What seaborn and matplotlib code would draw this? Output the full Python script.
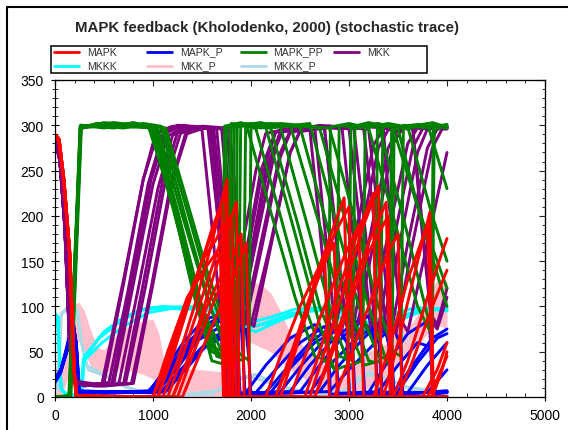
import pandas as pd
import seaborn as sns
import matplotlib.pyplot as plt
from matplotlib.lines import Line2D
from matplotlib.patches import Rectangle
from matplotlib.ticker import MultipleLocator

# Kholodenko MAPK feedback, 10 stochastic runs as (time, value) breakpoints

mapk_runs = [
    [(0, 288), (40, 285), (90, 240), (150, 160), (195, 30), (220, 2), (1000, 0), (1100, 25), (1300, 90), (1500, 150), (1650, 175), (1720, 192), (1750, 100), (1770, 0), (2250, 0), (2400, 40), (2600, 110), (2800, 175), (2950, 220), (2975, 120), (3000, 0), (3500, 0), (3650, 40), (3850, 100), (4000, 140)],
    [(0, 290), (35, 286), (85, 245), (145, 165), (190, 35), (215, 0), (1100, 0), (1250, 40), (1450, 110), (1600, 170), (1700, 215), (1755, 240), (1775, 120), (1790, 0), (2600, 0), (2750, 50), (2950, 120), (3150, 190), (3300, 233), (3315, 120), (3330, 0), (4000, 0)],
    [(0, 287), (45, 283), (95, 235), (155, 150), (200, 25), (225, 0), (1000, 0), (1150, 50), (1350, 110), (1550, 145), (1650, 160), (1690, 150), (1705, 60), (1720, 0), (2250, 0), (2400, 45), (2600, 110), (2800, 160), (2850, 170), (2865, 80), (2880, 0), (3350, 0), (3500, 60), (3700, 150), (3825, 204), (3845, 100), (3860, 0), (4000, 0)],
    [(0, 289), (40, 284), (90, 242), (150, 162), (195, 30), (222, 0), (1150, 0), (1300, 45), (1500, 110), (1700, 175), (1800, 200), (1825, 110), (1850, 0), (2650, 0), (2800, 40), (3000, 100), (3200, 160), (3400, 200), (3425, 100), (3450, 0), (3800, 0), (3900, 20), (4000, 45)],
    [(0, 288), (38, 284), (88, 240), (148, 160), (193, 28), (218, 0), (1200, 0), (1350, 40), (1550, 110), (1750, 180), (1850, 215), (1865, 120), (1880, 0), (2400, 0), (2550, 45), (2750, 100), (2950, 155), (3100, 190), (3125, 90), (3150, 0), (3750, 0), (3900, 30), (4000, 60)],
    [(0, 290), (42, 285), (92, 238), (152, 158), (197, 30), (224, 0), (1250, 0), (1400, 45), (1600, 100), (1800, 150), (1900, 180), (1915, 90), (1930, 0), (2850, 0), (3000, 40), (3200, 100), (3400, 160), (3500, 180), (3520, 90), (3540, 0), (4000, 0)],
    [(0, 288), (40, 285), (90, 240), (150, 160), (195, 30), (220, 0), (1300, 0), (1450, 40), (1650, 90), (1850, 140), (1950, 170), (1970, 90), (1990, 0), (2300, 0), (2450, 50), (2650, 120), (2850, 180), (3000, 210), (3025, 100), (3050, 0), (3450, 0), (3600, 40), (3800, 110), (3950, 160), (4000, 175)],
    [(0, 289), (36, 285), (86, 243), (146, 163), (191, 32), (216, 0), (1050, 0), (1200, 50), (1400, 120), (1600, 180), (1700, 210), (1720, 110), (1740, 0), (2550, 0), (2700, 50), (2900, 120), (3100, 185), (3250, 225), (3265, 110), (3280, 0), (3850, 0), (3950, 30), (4000, 50)],
    [(0, 287), (44, 283), (94, 236), (154, 152), (199, 27), (224, 0), (1200, 0), (1350, 40), (1550, 100), (1700, 135), (1780, 150), (1800, 80), (1820, 0), (2150, 0), (2300, 45), (2500, 100), (2700, 145), (2750, 160), (2775, 80), (2800, 0), (3250, 0), (3400, 50), (3600, 130), (3800, 190), (3830, 100), (3850, 0), (4000, 0)],
    [(0, 288), (40, 284), (90, 241), (150, 161), (195, 29), (220, 0), (1050, 0), (1200, 45), (1400, 115), (1600, 185), (1740, 225), (1760, 110), (1780, 0), (2650, 0), (2800, 45), (3000, 110), (3200, 170), (3380, 215), (3400, 100), (3420, 0), (4000, 0)],
]

mapk_p_runs = [
    [(0, 18), (60, 28), (120, 50), (180, 80), (215, 60), (245, 6), (500, 4), (950, 6), (1100, 25), (1300, 50), (1500, 70), (1700, 85), (1760, 50), (1780, 3), (2150, 5), (2350, 30), (2600, 60), (2850, 80), (2980, 60), (3005, 3), (3450, 5), (3650, 35), (3850, 65), (4000, 75)],
    [(0, 20), (60, 30), (120, 55), (185, 85), (220, 55), (250, 5), (600, 5), (980, 7), (1150, 30), (1350, 60), (1550, 80), (1700, 90), (1780, 55), (1800, 4), (2400, 6), (2600, 35), (2850, 65), (3100, 85), (3300, 70), (3340, 3), (4000, 6)],
    [(0, 16), (55, 26), (115, 48), (175, 78), (210, 62), (240, 7), (700, 5), (1000, 6), (1150, 28), (1350, 55), (1550, 72), (1700, 65), (1730, 3), (2050, 5), (2250, 30), (2500, 60), (2750, 78), (2870, 55), (2890, 4), (3300, 6), (3500, 35), (3700, 60), (3840, 55), (3865, 4), (4000, 5)],
    [(0, 19), (58, 29), (118, 52), (182, 82), (218, 58), (248, 5), (600, 6), (1020, 5), (1200, 30), (1400, 58), (1600, 78), (1800, 95), (1840, 50), (1860, 3), (2600, 5), (2800, 35), (3050, 62), (3300, 82), (3430, 60), (3460, 4), (4000, 6)],
    [(0, 21), (62, 31), (122, 53), (178, 79), (212, 61), (242, 6), (800, 5), (1050, 7), (1250, 32), (1450, 62), (1650, 75), (1850, 82), (1870, 40), (1890, 3), (2300, 6), (2500, 33), (2750, 63), (3000, 88), (3130, 60), (3160, 4), (3600, 5), (3800, 35), (4000, 60)],
    [(0, 17), (57, 27), (117, 51), (183, 84), (216, 59), (246, 5), (900, 6), (1080, 5), (1280, 30), (1500, 55), (1700, 72), (1900, 80), (1920, 45), (1940, 3), (2800, 6), (3000, 30), (3250, 58), (3450, 78), (3530, 55), (3550, 3), (4000, 7)],
    [(0, 20), (60, 30), (120, 50), (180, 80), (215, 60), (245, 5), (800, 6), (1100, 6), (1300, 30), (1500, 52), (1700, 68), (1950, 75), (1980, 40), (2000, 3), (2200, 5), (2400, 32), (2650, 60), (2900, 75), (3040, 50), (3060, 3), (3500, 6), (3700, 38), (3900, 65), (4000, 70)],
    [(0, 18), (55, 28), (118, 52), (182, 83), (215, 58), (244, 6), (700, 5), (960, 6), (1120, 30), (1320, 62), (1520, 85), (1700, 92), (1730, 50), (1750, 3), (2500, 6), (2700, 35), (2950, 68), (3200, 90), (3270, 55), (3290, 3), (3800, 5), (4000, 30)],
    [(0, 19), (60, 29), (120, 52), (180, 78), (214, 60), (244, 5), (900, 5), (1130, 6), (1330, 30), (1530, 55), (1700, 65), (1800, 60), (1825, 3), (1950, 5), (2150, 35), (2400, 65), (2650, 80), (2790, 60), (2810, 3), (3200, 5), (3400, 40), (3600, 70), (3820, 85), (3855, 3), (4000, 5)],
    [(0, 20), (61, 30), (121, 54), (181, 81), (216, 57), (246, 5), (700, 6), (1000, 5), (1180, 32), (1380, 60), (1580, 82), (1740, 88), (1770, 45), (1790, 3), (2700, 6), (2900, 35), (3150, 65), (3350, 85), (3410, 55), (3430, 3), (4000, 6)],
]

mapk_pp_runs = [
    [(0, 0), (150, 2), (205, 150), (260, 296), (420, 302), (700, 298), (950, 300), (1200, 215), (1400, 120), (1600, 40), (1760, 35), (1790, 300), (2000, 302), (2150, 298), (2450, 180), (2700, 80), (2850, 30), (2990, 35), (3020, 298), (3200, 303), (3450, 297), (3700, 210), (4000, 120)],
    [(0, 0), (160, 0), (215, 160), (265, 300), (500, 297), (800, 303), (980, 298), (1250, 200), (1450, 110), (1650, 45), (1780, 40), (1800, 302), (2100, 297), (2400, 300), (2700, 190), (2950, 90), (3150, 35), (3320, 40), (3345, 300), (3600, 296), (3850, 303), (4000, 298)],
    [(0, 0), (140, 0), (200, 140), (255, 298), (600, 300), (1000, 297), (1250, 190), (1450, 100), (1600, 50), (1710, 45), (1730, 299), (1900, 303), (2050, 296), (2300, 200), (2550, 100), (2750, 40), (2870, 30), (2900, 300), (3100, 297), (3300, 301), (3550, 200), (3800, 90), (3850, 60), (3870, 295), (4000, 300)],
    [(0, 0), (155, 0), (210, 150), (262, 297), (500, 303), (800, 298), (1020, 300), (1300, 185), (1500, 100), (1700, 50), (1840, 38), (1860, 300), (2200, 297), (2600, 302), (2850, 200), (3100, 100), (3300, 45), (3440, 40), (3460, 298), (3700, 300), (4000, 297)],
    [(0, 0), (150, 0), (205, 145), (258, 299), (700, 300), (1050, 296), (1300, 200), (1550, 110), (1750, 50), (1870, 45), (1895, 300), (2100, 303), (2300, 298), (2600, 180), (2850, 80), (3000, 35), (3140, 40), (3165, 297), (3400, 302), (3600, 298), (3850, 200), (4000, 150)],
    [(0, 0), (160, 0), (218, 155), (270, 300), (600, 297), (900, 302), (1080, 299), (1350, 190), (1600, 95), (1800, 45), (1920, 40), (1945, 298), (2300, 302), (2800, 297), (3050, 200), (3300, 100), (3450, 50), (3530, 45), (3555, 300), (3800, 297), (4000, 301)],
    [(0, 0), (145, 0), (200, 150), (258, 297), (650, 301), (1100, 298), (1350, 205), (1600, 110), (1800, 55), (1980, 40), (2000, 300), (2200, 297), (2480, 190), (2700, 100), (2900, 45), (3040, 40), (3060, 299), (3300, 302), (3500, 296), (3750, 190), (4000, 100)],
    [(0, 0), (150, 0), (205, 150), (260, 300), (700, 297), (960, 301), (1200, 210), (1420, 120), (1600, 55), (1730, 50), (1750, 297), (2100, 302), (2500, 298), (2750, 200), (3000, 100), (3200, 40), (3270, 38), (3290, 300), (3550, 297), (3800, 302), (4000, 230)],
    [(0, 0), (155, 0), (210, 150), (265, 298), (800, 302), (1130, 297), (1350, 215), (1550, 140), (1700, 90), (1810, 70), (1830, 298), (1950, 302), (2200, 205), (2450, 110), (2650, 45), (2790, 40), (2810, 298), (3000, 302), (3200, 297), (3450, 200), (3700, 100), (3840, 70), (3860, 300), (4000, 297)],
    [(0, 0), (148, 0), (205, 155), (262, 299), (600, 303), (1000, 298), (1250, 205), (1450, 115), (1650, 50), (1770, 42), (1790, 298), (2200, 302), (2700, 297), (2950, 200), (3200, 100), (3380, 40), (3410, 35), (3435, 297), (3700, 301), (4000, 298)],
]

mkk_runs = [
    [(0, 285), (50, 262), (100, 190), (150, 60), (185, 18), (300, 12), (480, 15), (700, 130), (900, 240), (1030, 292), (1200, 299), (1400, 296), (1560, 297), (1650, 210), (1760, 95), (1820, 80), (1950, 150), (2100, 240), (2250, 292), (2500, 299), (2750, 296), (2850, 200), (2970, 80), (3050, 60), (3250, 170), (3450, 280), (3550, 297), (4000, 296)],
    [(0, 286), (52, 260), (105, 185), (155, 55), (190, 16), (350, 13), (550, 16), (750, 120), (950, 235), (1100, 290), (1300, 300), (1620, 296), (1710, 200), (1800, 90), (1860, 75), (2000, 150), (2150, 240), (2300, 292), (2700, 300), (3050, 297), (3150, 200), (3260, 85), (3330, 70), (3500, 160), (3700, 270), (3800, 296), (4000, 299)],
    [(0, 284), (48, 262), (98, 192), (148, 62), (183, 19), (300, 14), (600, 15), (800, 125), (1000, 235), (1150, 288), (1300, 297), (1500, 295), (1600, 190), (1690, 90), (1750, 78), (1900, 160), (2050, 250), (2150, 291), (2400, 297), (2650, 298), (2740, 200), (2850, 85), (2920, 70), (3100, 170), (3300, 275), (3400, 295), (3650, 297), (3740, 200), (3840, 90), (3900, 80), (4000, 120)],
    [(0, 285), (50, 261), (100, 188), (150, 58), (185, 17), (400, 12), (650, 14), (850, 120), (1050, 230), (1200, 289), (1400, 299), (1700, 296), (1780, 200), (1860, 85), (1920, 78), (2100, 170), (2300, 270), (2400, 294), (2800, 299), (3200, 296), (3300, 200), (3420, 85), (3480, 70), (3650, 170), (3850, 275), (3950, 296), (4000, 298)],
    [(0, 285), (50, 260), (100, 189), (150, 60), (185, 18), (400, 13), (700, 15), (900, 125), (1100, 240), (1250, 292), (1450, 298), (1720, 296), (1790, 200), (1880, 88), (1940, 80), (2100, 160), (2300, 265), (2400, 292), (2700, 298), (2930, 296), (3020, 200), (3130, 85), (3200, 72), (3400, 180), (3600, 280), (3700, 297), (4000, 296)],
    [(0, 286), (50, 261), (100, 187), (150, 57), (185, 17), (450, 12), (720, 15), (920, 120), (1120, 235), (1280, 291), (1500, 299), (1750, 297), (1830, 200), (1930, 90), (2000, 80), (2200, 170), (2400, 270), (2500, 294), (3000, 300), (3350, 297), (3420, 200), (3530, 85), (3600, 72), (3800, 170), (4000, 270)],
    [(0, 284), (48, 262), (98, 190), (148, 60), (183, 18), (500, 13), (780, 15), (980, 120), (1180, 235), (1330, 290), (1550, 298), (1780, 296), (1860, 200), (1970, 85), (2030, 78), (2200, 165), (2400, 270), (2500, 293), (2750, 297), (2840, 200), (2960, 85), (3030, 70), (3200, 170), (3400, 275), (3500, 296), (4000, 297)],
    [(0, 285), (50, 261), (100, 189), (150, 59), (185, 18), (300, 13), (500, 15), (700, 125), (900, 240), (1050, 292), (1250, 300), (1580, 297), (1660, 200), (1740, 85), (1800, 75), (1950, 160), (2100, 250), (2250, 293), (2700, 299), (3000, 296), (3100, 200), (3220, 85), (3290, 70), (3450, 170), (3650, 275), (3750, 296), (4000, 298)],
    [(0, 286), (52, 260), (102, 186), (152, 56), (187, 17), (500, 12), (800, 15), (1000, 125), (1200, 240), (1350, 292), (1500, 297), (1650, 296), (1730, 200), (1820, 90), (1880, 80), (2050, 170), (2250, 275), (2330, 295), (2500, 298), (2600, 296), (2690, 200), (2790, 85), (2850, 72), (3050, 170), (3250, 278), (3350, 296), (3650, 298), (3730, 200), (3840, 85), (3900, 75), (4000, 110)],
    [(0, 285), (50, 262), (100, 190), (150, 60), (185, 18), (350, 13), (580, 15), (780, 125), (980, 240), (1130, 292), (1300, 299), (1600, 297), (1680, 200), (1780, 88), (1840, 78), (2000, 160), (2150, 250), (2300, 293), (2800, 299), (3150, 296), (3250, 200), (3370, 85), (3430, 72), (3600, 170), (3800, 275), (3900, 296), (4000, 298)],
]

mkkk_runs = [
    [(0, 90), (25, 88), (60, 10), (120, 2), (260, 3), (290, 42), (450, 65), (650, 82), (850, 95), (1000, 99), (1300, 97), (1600, 98), (1750, 85), (1900, 75), (2100, 80), (2400, 92), (2700, 97), (2950, 85), (3100, 72), (3350, 85), (3600, 97), (4000, 96)],
    [(0, 92), (30, 89), (65, 8), (130, 1), (270, 2), (300, 45), (500, 72), (700, 88), (900, 97), (1100, 100), (1500, 98), (1700, 90), (1850, 80), (2050, 72), (2300, 85), (2600, 96), (2900, 98), (3100, 80), (3300, 75), (3550, 90), (3800, 98), (4000, 97)],
    [(0, 89), (28, 87), (62, 9), (125, 2), (265, 2), (295, 40), (480, 60), (700, 78), (950, 93), (1200, 98), (1650, 96), (1800, 82), (2000, 78), (2250, 83), (2500, 94), (2800, 96), (3050, 78), (3250, 70), (3500, 84), (3750, 95), (4000, 98)],
    [(0, 91), (27, 88), (63, 9), (128, 2), (268, 3), (298, 43), (470, 68), (680, 85), (880, 96), (1050, 98), (1400, 100), (1680, 94), (1820, 86), (1980, 82), (2200, 88), (2450, 97), (2750, 99), (3000, 90), (3200, 82), (3450, 92), (3700, 99), (4000, 95)],
]

mkkk_p_runs = [
    [(0, 10), (25, 12), (60, 90), (120, 98), (220, 97), (270, 60), (320, 35), (500, 25), (700, 12), (900, 5), (1100, 2), (1600, 3), (1800, 18), (2000, 22), (2300, 12), (2600, 4), (2900, 3), (3100, 22), (3300, 25), (3550, 12), (4000, 4)],
    [(0, 8), (30, 11), (65, 92), (130, 99), (230, 96), (280, 55), (340, 30), (550, 22), (750, 10), (950, 4), (1200, 1), (1700, 8), (1850, 20), (2050, 25), (2350, 10), (2700, 3), (3000, 8), (3200, 28), (3400, 20), (3650, 8), (4000, 3)],
]

# MKK_P spread of the runs, kept as a low / high band
mkk_p_time = [0, 60, 130, 180, 240, 300, 360, 430, 500, 600, 700, 800, 900, 1000, 1060, 1120, 1300, 1500, 1700, 1780, 1850, 1920, 2000, 2100, 2200, 2300, 2400, 2550, 2700, 2800, 2900, 2960, 3050, 3200, 3400, 3500, 3650, 3800, 3900, 4000]
mkk_p_low = [0, 0, 20, 55, 62, 50, 35, 25, 28, 30, 30, 28, 25, 20, 10, 0, 0, 0, 0, 0, 20, 55, 60, 55, 50, 40, 30, 20, 10, 0, 0, 0, 5, 10, 20, 40, 50, 70, 80, 75]
mkk_p_high = [0, 30, 80, 100, 105, 95, 75, 55, 52, 65, 75, 80, 84, 86, 70, 35, 32, 30, 28, 30, 70, 115, 127, 125, 115, 95, 70, 55, 40, 30, 25, 22, 35, 50, 60, 75, 82, 110, 130, 128]

legend_order = ["MAPK", "MAPK_P", "MAPK_PP", "MKK", "MKKK", "MKK_P", "MKKK_P"]
colors = {"MAPK": "red", "MAPK_P": "blue", "MAPK_PP": "green", "MKK": "purple",
          "MKKK": "cyan", "MKK_P": "pink", "MKKK_P": "lightblue"}

species_runs = {"MKKK_P": mkkk_p_runs, "MKKK": mkkk_runs, "MAPK_P": mapk_p_runs,
                "MKK": mkk_runs, "MAPK_PP": mapk_pp_runs, "MAPK": mapk_runs}

rows = []
for name, runs in species_runs.items():
    for i, run in enumerate(runs):
        for t, v in run:
            rows.append((name, i, t, v))
df = pd.DataFrame(rows, columns=["species", "run", "time", "value"])

sns.set_style("ticks")
plt.rcParams["font.family"] = ["Liberation Sans", "DejaVu Sans"]

W, H = 568, 431
fig = plt.figure(figsize=(W / 100, H / 100), dpi=100)
ax = fig.add_axes([55 / W, 1 - 398 / H, 490 / W, 317 / H])

ax.fill_between(mkk_p_time, mkk_p_low, mkk_p_high, color=colors["MKK_P"], lw=0, zorder=1)
sns.lineplot(data=df, x="time", y="value", hue="species", hue_order=list(species_runs),
             units="run", estimator=None, palette=colors, lw=2.1, legend=False, ax=ax)

ax.set_xlim(0, 5000)
ax.set_ylim(0, 350)
ax.set_xlabel("")
ax.set_ylabel("")
ax.xaxis.set_major_locator(MultipleLocator(1000))
ax.xaxis.set_minor_locator(MultipleLocator(200))
ax.yaxis.set_major_locator(MultipleLocator(50))
ax.yaxis.set_minor_locator(MultipleLocator(10))
ax.tick_params(which="major", direction="inout", length=6, width=0.8, labelsize=10, pad=5, colors="black")
ax.tick_params(axis="y", which="minor", direction="inout", length=4, width=0.7)
ax.tick_params(axis="x", which="minor", direction="in", length=3, width=0.7)
for s in ax.spines.values():
    s.set_color("black")
    s.set_linewidth(0.9)

# inward ticks on top and right
top = ax.secondary_xaxis("top")
top.xaxis.set_major_locator(MultipleLocator(1000))
top.xaxis.set_minor_locator(MultipleLocator(200))
top.tick_params(which="major", direction="in", length=4, width=0.8, labeltop=False)
top.tick_params(which="minor", direction="in", length=2.5, width=0.7)
right = ax.secondary_yaxis("right")
right.yaxis.set_major_locator(MultipleLocator(50))
right.yaxis.set_minor_locator(MultipleLocator(10))
right.tick_params(which="major", direction="in", length=4, width=0.8, labelright=False)
right.tick_params(which="minor", direction="in", length=2.5, width=0.7)

fig.text(267 / W, 1 - 32.3 / H, "MAPK feedback (Kholodenko, 2000) (stochastic trace)",
         ha="center", va="baseline", fontsize=10.8, fontweight="bold")

# legend box, four columns filled row by row
fig.add_artist(Rectangle((51 / W, 1 - 74 / H), 376 / W, 27 / H, transform=fig.transFigure,
                         fill=False, edgecolor="black", lw=1.1))
for k, name in enumerate(legend_order):
    col, row = k % 4, k // 4
    x0 = 54 + col * 93.3
    y_line = 52.7 + row * 14
    fig.add_artist(Line2D([x0 / W, (x0 + 25) / W], [1 - y_line / H, 1 - y_line / H],
                          transform=fig.transFigure, color=colors[name], lw=2))
    fig.text((x0 + 33) / W, 1 - (y_line + 2.8) / H, name, ha="left", va="baseline",
             fontsize=7.6, color="#333333")

# outer frame of the picture
fig.add_artist(Line2D([7.3 / W, 7.3 / W, 1], [0, 1 - 8.3 / H, 1 - 8.3 / H],
                      transform=fig.transFigure, color="black", lw=1.5))

fig.savefig("out.png", dpi=100)
